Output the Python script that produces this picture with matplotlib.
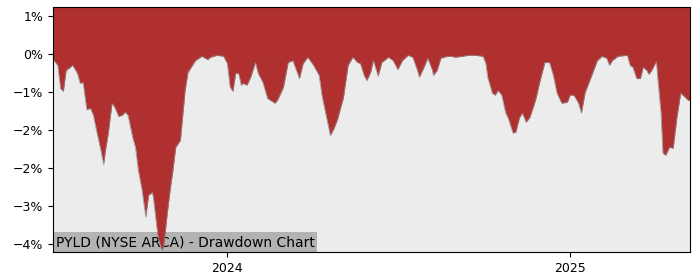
import matplotlib
matplotlib.use("Agg")
import matplotlib.pyplot as plt
import matplotlib.dates as mdates
from matplotlib.ticker import PercentFormatter, FixedLocator
import pandas as pd

# ── data ──────────────────────────────────────────────────────────────────────
TICKER = "PYLD (NYSE ARCA) - Drawdown Chart"

dates = [
    "2023-06-29", "2023-06-30", "2023-07-04", "2023-07-07", "2023-07-10", "2023-07-13",
    "2023-07-20", "2023-07-25", "2023-07-28", "2023-07-31", "2023-08-04", "2023-08-08",
    "2023-08-11", "2023-08-15", "2023-08-19", "2023-08-22", "2023-08-24", "2023-08-27",
    "2023-08-31", "2023-09-03", "2023-09-07", "2023-09-11", "2023-09-14", "2023-09-17",
    "2023-09-22", "2023-09-25", "2023-09-28",
    "2023-10-02", "2023-10-06", "2023-10-09", "2023-10-13", "2023-10-14", "2023-10-16",
    "2023-10-19", "2023-10-23", "2023-10-25", "2023-10-27", "2023-10-29", "2023-11-01",
    "2023-11-04", "2023-11-07", "2023-11-12",
    "2023-11-17", "2023-11-20", "2023-11-28",
    "2023-12-05", "2023-12-11", "2023-12-14", "2023-12-21", "2023-12-28", "2024-01-01",
    "2024-01-04", "2024-01-07", "2024-01-10", "2024-01-13", "2024-01-16", "2024-01-18",
    "2024-01-22", "2024-01-26", "2024-01-31", "2024-02-03", "2024-02-08", "2024-02-13",
    "2024-02-21", "2024-02-24", "2024-03-01", "2024-03-06", "2024-03-11", "2024-03-16",
    "2024-03-18", "2024-03-22", "2024-03-27", "2024-04-02", "2024-04-08", "2024-04-11",
    "2024-04-16", "2024-04-20", "2024-04-24", "2024-04-28", "2024-05-04", "2024-05-09",
    "2024-05-14", "2024-05-19", "2024-05-22", "2024-05-26", "2024-05-29", "2024-06-02",
    "2024-06-05", "2024-06-10", "2024-06-14", "2024-06-21", "2024-06-26", "2024-07-01",
    "2024-07-06", "2024-07-12", "2024-07-17", "2024-07-22", "2024-07-24", "2024-07-29",
    "2024-08-02", "2024-08-07", "2024-08-08", "2024-08-12", "2024-08-16", "2024-08-23",
    "2024-08-28", "2024-08-31", "2024-09-08", "2024-09-14", "2024-09-22", "2024-09-30",
    "2024-10-03", "2024-10-05", "2024-10-10", "2024-10-13", "2024-10-16", "2024-10-20",
    "2024-10-24", "2024-10-27", "2024-11-01", "2024-11-04", "2024-11-08", "2024-11-11",
    "2024-11-15", "2024-11-19", "2024-11-25", "2024-11-30", "2024-12-05", "2024-12-10",
    "2024-12-14", "2024-12-18", "2024-12-23", "2024-12-29", "2025-01-01", "2025-01-05",
    "2025-01-10", "2025-01-13", "2025-01-17", "2025-01-22", "2025-01-30", "2025-02-04",
    "2025-02-09", "2025-02-12", "2025-02-15", "2025-02-21", "2025-03-03", "2025-03-06",
    "2025-03-09", "2025-03-13", "2025-03-17", "2025-03-20", "2025-03-24", "2025-03-26",
    "2025-03-29", "2025-04-03", "2025-04-05", "2025-04-08", "2025-04-10", "2025-04-13",
    "2025-04-17", "2025-04-21", "2025-04-25", "2025-04-29", "2025-05-04", "2025-05-07",
    "2025-05-09",
]

drawdown_pct = [
    -0.08, -0.13, -0.23, -0.72, -0.78, -0.34,
    -0.23, -0.40, -0.61, -0.59, -1.16, -1.14,
    -1.28, -1.66, -2.02, -2.32, -2.02, -1.66,
    -1.03, -1.12, -1.31, -1.28, -1.22, -1.28,
    -1.75, -1.96, -2.44,
    -2.86, -3.43, -2.97, -2.91, -3.01, -3.35,
    -3.85, -4.13, -4.06, -3.71, -3.35, -2.86,
    -2.44, -1.96, -1.81,
    -0.76, -0.38, -0.13,
    -0.04, -0.11, -0.06, -0.02, -0.04, -0.19,
    -0.69, -0.78, -0.40, -0.40, -0.65, -0.61,
    -0.65, -0.48, -0.17, -0.40, -0.59, -0.93,
    -1.03, -0.95, -0.69, -0.17, -0.13, -0.40,
    -0.51, -0.19, -0.06, -0.23, -0.44, -0.86,
    -1.33, -1.71, -1.56, -1.35, -0.91, -0.23,
    -0.06, -0.17, -0.19, -0.44, -0.55, -0.38,
    -0.13, -0.46, -0.17, -0.06, -0.13, -0.32,
    -0.13, -0.02, -0.06, -0.34, -0.48, -0.27,
    -0.08, -0.34, -0.44, -0.34, -0.08, -0.04,
    -0.04, -0.06, -0.04, -0.02, -0.02, -0.04,
    -0.19, -0.48, -0.82, -0.86, -0.76, -0.86,
    -1.22, -1.35, -1.66, -1.64, -1.33, -1.24,
    -1.43, -1.33, -0.97, -0.55, -0.17, -0.17,
    -0.44, -0.82, -1.03, -1.01, -0.86, -0.86,
    -1.03, -1.24, -0.80, -0.55, -0.13, -0.04,
    -0.08, -0.23, -0.13, -0.04, -0.02, -0.23,
    -0.27, -0.51, -0.51, -0.27, -0.34, -0.42,
    -0.34, -0.15, -0.61, -1.24, -2.08, -2.13,
    -1.96, -1.98, -1.33, -0.82, -0.91, -0.97,
    -0.97,
]

y_ticks = [0.8, 0.0, -0.8, -1.6, -2.4, -3.2, -4.0]

# ── style ─────────────────────────────────────────────────────────────────────
RED = "#b03030"
BG = "#ececec"
Y_TOP = 1.0
Y_BOTTOM = -4.17

x = pd.to_datetime(dates)

fig = plt.figure(figsize=(7, 2.8), dpi=100)
ax = fig.add_axes([0.0757, 0.1, 0.91, 0.875])
ax.set_facecolor(BG)

ax.fill_between(x, drawdown_pct, Y_TOP, color=RED, linewidth=0, zorder=2)
ax.plot(x, drawdown_pct, color="#8a8a8a", linewidth=0.6, alpha=0.8, zorder=2)

ax.set_xlim(x[0], x[-1])
ax.set_ylim(Y_BOTTOM, Y_TOP)

ax.yaxis.set_major_locator(FixedLocator(y_ticks))
ax.yaxis.set_major_formatter(PercentFormatter(xmax=100, decimals=0))
ax.xaxis.set_major_locator(mdates.YearLocator())
ax.xaxis.set_major_formatter(mdates.DateFormatter("%Y"))
ax.tick_params(labelsize=9)

# label sits under the fill, as in the reference
ax.text(0.004, 0.012, TICKER, transform=ax.transAxes, fontsize=10,
        ha="left", va="bottom", zorder=1,
        bbox=dict(facecolor="#b3b3b3", edgecolor="none", pad=2))

fig.savefig("out.png", dpi=100)
plt.close(fig)
